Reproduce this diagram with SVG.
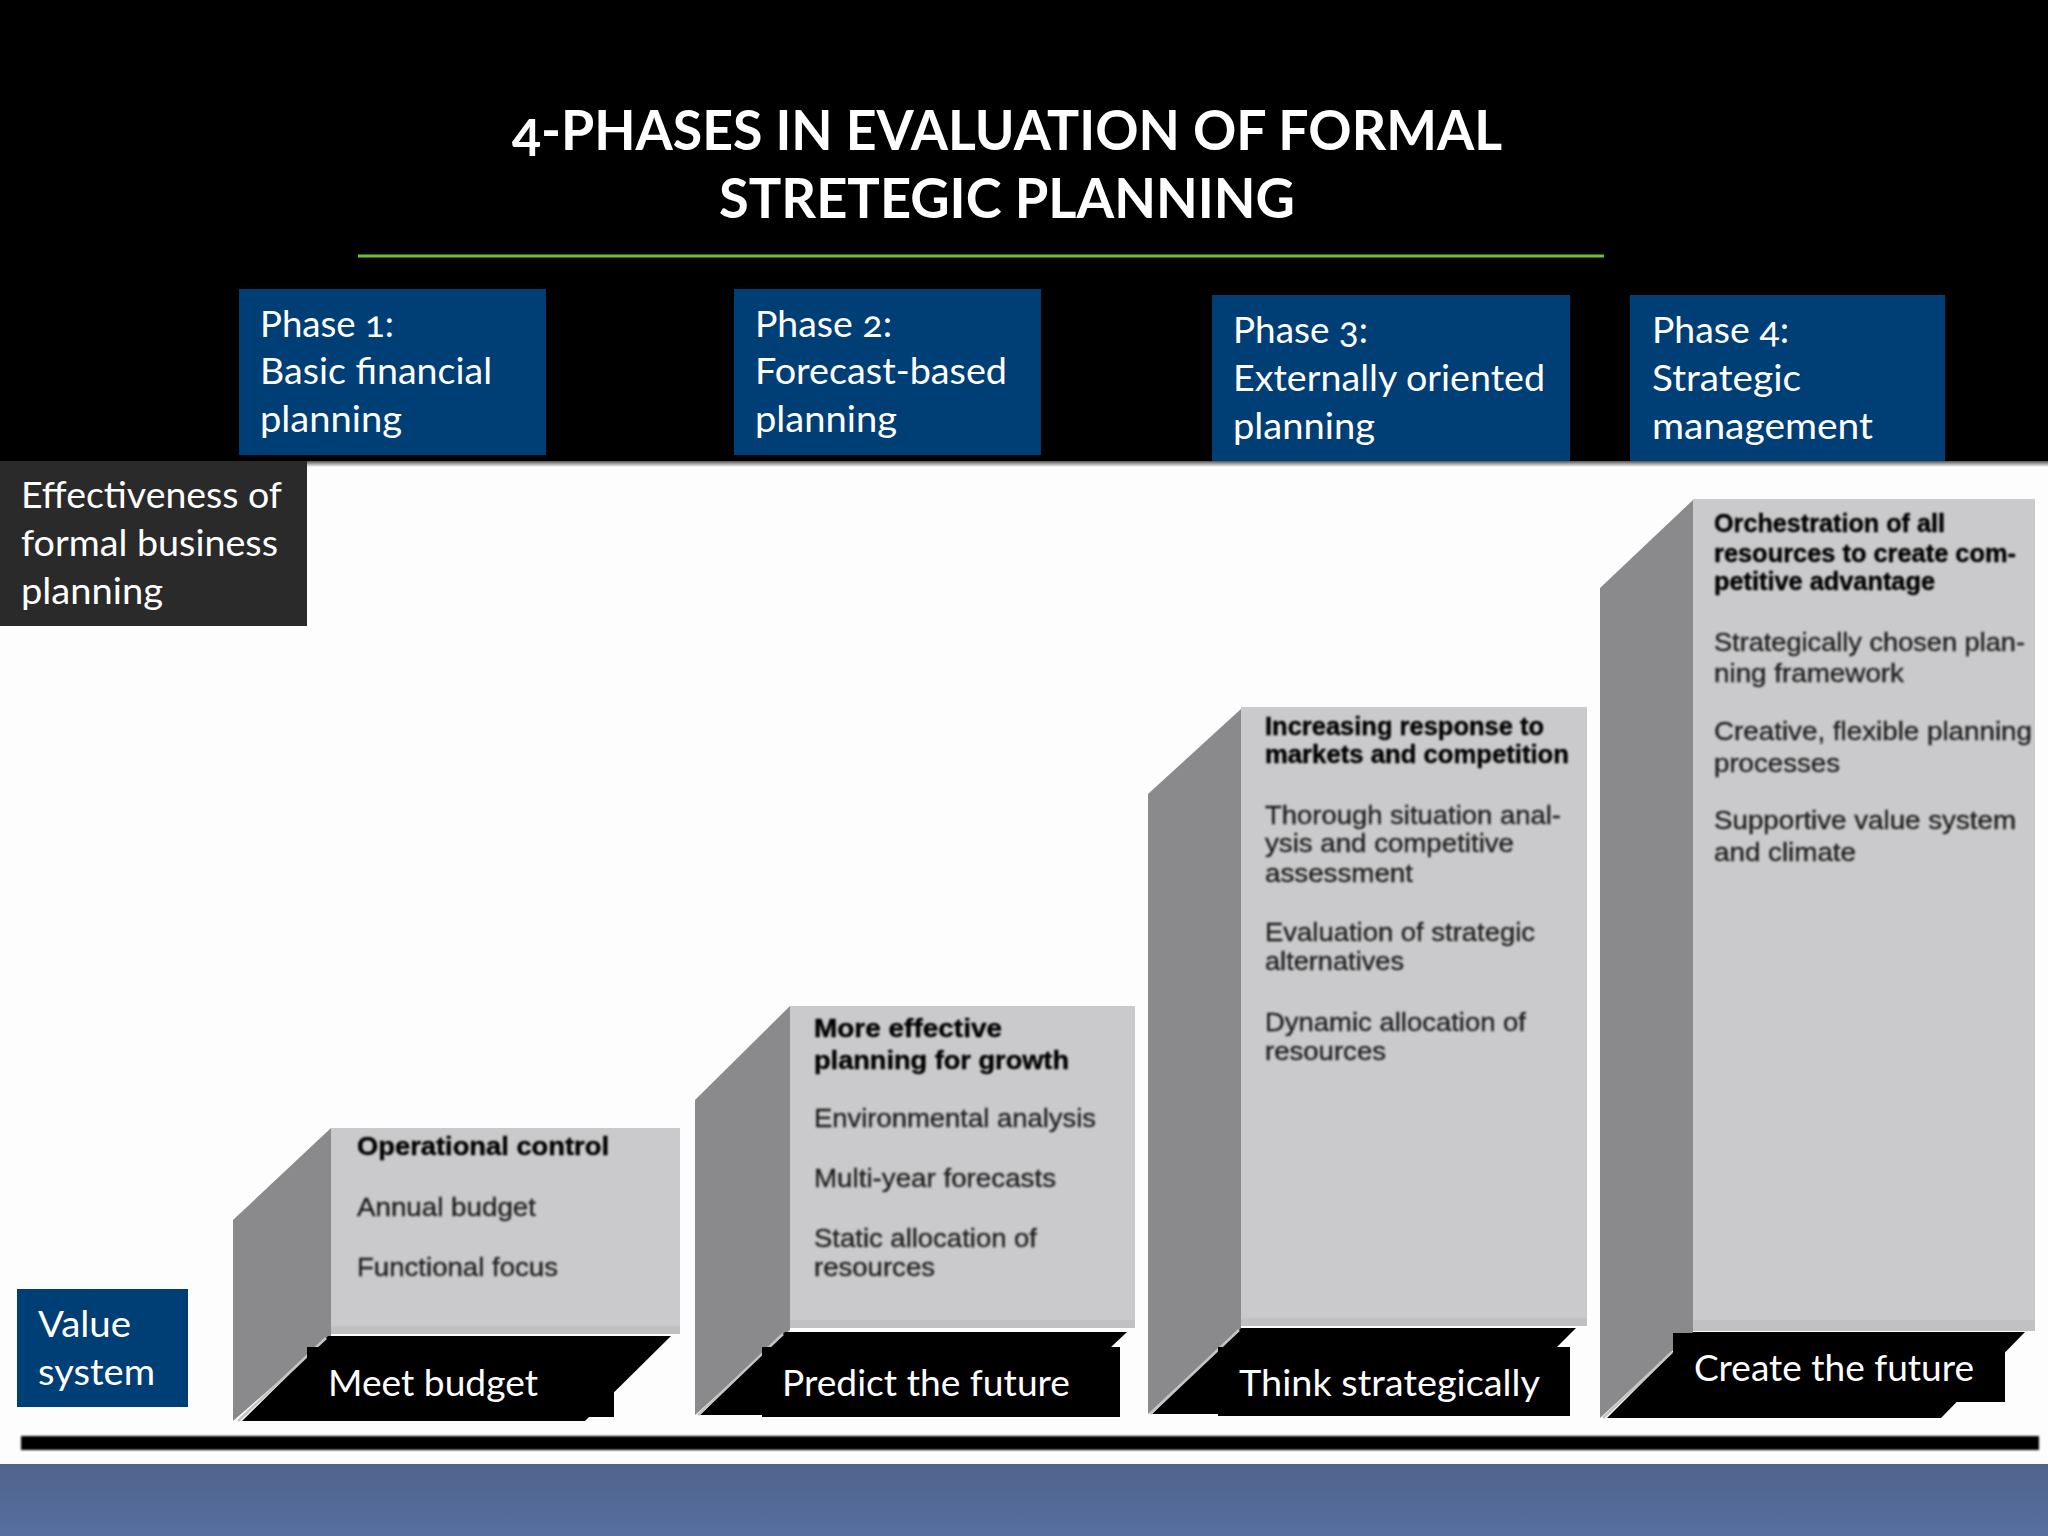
<svg xmlns="http://www.w3.org/2000/svg" width="2048" height="1536" viewBox="0 0 2048 1536">
<style>
.w{font-family:"Lato","Liberation Sans",sans-serif;font-size:37px;fill:#fff;font-feature-settings:"onum";}
.t{font-family:"Lato","Liberation Sans",sans-serif;font-size:55px;font-weight:700;fill:#fff;font-feature-settings:"onum";}
.g{font-family:"Liberation Sans",Arial,sans-serif;font-size:26px;fill:#1c1c1c;stroke:#1c1c1c;stroke-width:0.3;filter:url(#soft);}
.b{font-family:"Liberation Sans",Arial,sans-serif;font-size:26px;font-weight:700;fill:#000;stroke:#000;stroke-width:0.4;filter:url(#soft);}
.navy{fill:#003e76;}
.front{fill:#cacacc;}
.side{fill:#8a8a8c;}
.floor{fill:#000;}
.edge{fill:none;stroke:#c4c4c4;stroke-width:2.5;}
.band{fill:#c1c1c3;}
</style>
<defs>
<filter id="soft" x="-5%" y="-20%" width="110%" height="140%"><feGaussianBlur stdDeviation="1"/></filter>
<filter id="bar" x="-1%" y="-50%" width="102%" height="200%"><feGaussianBlur stdDeviation="1"/></filter>
<linearGradient id="foot" x1="0" y1="0" x2="0" y2="1"><stop offset="0" stop-color="#4f648d"/><stop offset="1" stop-color="#576f9f"/></linearGradient>
<linearGradient id="top" x1="0" y1="0" x2="0" y2="1"><stop offset="0" stop-color="#555"/><stop offset="1" stop-color="#fdfdfd"/></linearGradient>
</defs>
<rect width="2048" height="1536" fill="#fdfdfd"/>
<rect width="2048" height="461" fill="#000"/>
<rect y="461" width="2048" height="6" fill="url(#top)"/>
<rect y="1464" width="2048" height="72" fill="url(#foot)"/>

<g id="title">
<text class="t" x="512" y="150" textLength="990" lengthAdjust="spacingAndGlyphs">4-PHASES IN EVALUATION OF FORMAL</text>
<text class="t" x="719" y="218" textLength="576" lengthAdjust="spacingAndGlyphs">STRETEGIC PLANNING</text>
<rect x="358" y="254.5" width="1246" height="3" fill="#6fbf3f"/>
</g>

<g id="baseline"><rect x="21" y="1436" width="2018" height="14" fill="#000" filter="url(#bar)"/></g>

<g id="block1">
<polygon class="side" points="233,1220 331,1128 331,1336 233,1421"/>
<rect class="front" x="331" y="1128" width="349" height="206"/>
<rect class="band" x="331" y="1326" width="349" height="8"/>
<polygon class="floor" points="328,1336 671,1336 585,1421 242,1421"/>
<path class="edge" d="M326,1338 L238,1421"/>
<text class="b" x="357" y="1155" textLength="252" lengthAdjust="spacingAndGlyphs">Operational control</text>
<text class="g" x="357" y="1215.5" textLength="179" lengthAdjust="spacingAndGlyphs">Annual budget</text>
<text class="g" x="357" y="1275.5" textLength="201" lengthAdjust="spacingAndGlyphs">Functional focus</text>
<rect class="floor" x="307" y="1347" width="307" height="70"/>
<text class="w" x="328" y="1396" textLength="210" lengthAdjust="spacingAndGlyphs">Meet budget</text>
</g>

<g id="block2">
<polygon class="side" points="695,1100 790,1006 790,1330 695,1415"/>
<rect class="front" x="790" y="1006" width="345" height="322"/>
<rect class="band" x="790" y="1320" width="345" height="8"/>
<polygon class="floor" points="785,1332 1127,1332 1039,1415 700,1415"/>
<path class="edge" d="M783,1334 L698,1415"/>
<text class="b" x="814" y="1037" textLength="188" lengthAdjust="spacingAndGlyphs">More effective</text>
<text class="b" x="814" y="1069" textLength="255" lengthAdjust="spacingAndGlyphs">planning for growth</text>
<text class="g" x="814" y="1127" textLength="282" lengthAdjust="spacingAndGlyphs">Environmental analysis</text>
<text class="g" x="814" y="1187" textLength="242" lengthAdjust="spacingAndGlyphs">Multi-year forecasts</text>
<text class="g" x="814" y="1247" textLength="223" lengthAdjust="spacingAndGlyphs">Static allocation of</text>
<text class="g" x="814" y="1276" textLength="121" lengthAdjust="spacingAndGlyphs">resources</text>
<rect class="floor" x="762" y="1347" width="358" height="70"/>
<text class="w" x="782" y="1396" textLength="288" lengthAdjust="spacingAndGlyphs">Predict the future</text>
</g>

<g id="block3">
<polygon class="side" points="1148,794 1241,709 1241,1328 1148,1414"/>
<rect class="front" x="1241" y="707" width="346" height="619"/>
<rect class="band" x="1241" y="1318" width="346" height="8"/>
<polygon class="floor" points="1241,1328 1576,1328 1490,1414 1152,1414"/>
<path class="edge" d="M1239,1330 L1150,1414"/>
<text class="b" x="1265" y="735" textLength="279" lengthAdjust="spacingAndGlyphs">Increasing response to</text>
<text class="b" x="1265" y="763" textLength="304" lengthAdjust="spacingAndGlyphs">markets and competition</text>
<text class="g" x="1265" y="824" textLength="296" lengthAdjust="spacingAndGlyphs">Thorough situation anal-</text>
<text class="g" x="1265" y="852" textLength="249" lengthAdjust="spacingAndGlyphs">ysis and competitive</text>
<text class="g" x="1265" y="882" textLength="148" lengthAdjust="spacingAndGlyphs">assessment</text>
<text class="g" x="1265" y="941" textLength="270" lengthAdjust="spacingAndGlyphs">Evaluation of strategic</text>
<text class="g" x="1265" y="970" textLength="139" lengthAdjust="spacingAndGlyphs">alternatives</text>
<text class="g" x="1265" y="1031" textLength="261" lengthAdjust="spacingAndGlyphs">Dynamic allocation of</text>
<text class="g" x="1265" y="1060" textLength="121" lengthAdjust="spacingAndGlyphs">resources</text>
<rect class="floor" x="1218" y="1347" width="352" height="69"/>
<text class="w" x="1239" y="1396" textLength="301" lengthAdjust="spacingAndGlyphs">Think strategically</text>
</g>

<g id="block4">
<polygon class="side" points="1600,588 1693,500 1693,1332 1600,1418"/>
<rect class="front" x="1693" y="499" width="342" height="832"/>
<rect class="band" x="1693" y="1320" width="342" height="11"/>
<polygon class="floor" points="1693,1332 2025,1332 1941,1418 1607,1418"/>
<path class="edge" d="M1672,1352 L1603,1418"/>
<text class="b" x="1714" y="532" textLength="231" lengthAdjust="spacingAndGlyphs">Orchestration of all</text>
<text class="b" x="1714" y="562" textLength="302" lengthAdjust="spacingAndGlyphs">resources to create com-</text>
<text class="b" x="1714" y="590" textLength="221" lengthAdjust="spacingAndGlyphs">petitive advantage</text>
<text class="g" x="1714" y="651" textLength="311" lengthAdjust="spacingAndGlyphs">Strategically chosen plan-</text>
<text class="g" x="1714" y="682" textLength="190" lengthAdjust="spacingAndGlyphs">ning framework</text>
<text class="g" x="1714" y="740" textLength="318" lengthAdjust="spacingAndGlyphs">Creative, flexible planning</text>
<text class="g" x="1714" y="772" textLength="126" lengthAdjust="spacingAndGlyphs">processes</text>
<text class="g" x="1714" y="829" textLength="302" lengthAdjust="spacingAndGlyphs">Supportive value system</text>
<text class="g" x="1714" y="861" textLength="142" lengthAdjust="spacingAndGlyphs">and climate</text>
<rect class="floor" x="1673" y="1333" width="332" height="69"/>
<text class="w" x="1694" y="1381" textLength="280" lengthAdjust="spacingAndGlyphs">Create the future</text>
</g>

<g id="phase1">
<rect class="navy" x="239" y="289" width="307" height="166"/>
<text class="w" x="260" y="336.5" textLength="134" lengthAdjust="spacingAndGlyphs">Phase 1:</text>
<text class="w" x="260" y="384" textLength="232" lengthAdjust="spacingAndGlyphs">Basic financial</text>
<text class="w" x="260" y="432" textLength="142" lengthAdjust="spacingAndGlyphs">planning</text>
</g>
<g id="phase2">
<rect class="navy" x="734" y="289" width="307" height="166"/>
<text class="w" x="755" y="336.5" textLength="137" lengthAdjust="spacingAndGlyphs">Phase 2:</text>
<text class="w" x="755" y="384" textLength="252" lengthAdjust="spacingAndGlyphs">Forecast-based</text>
<text class="w" x="755" y="432" textLength="142" lengthAdjust="spacingAndGlyphs">planning</text>
</g>
<g id="phase3">
<rect class="navy" x="1212" y="295" width="358" height="166"/>
<text class="w" x="1233" y="343" textLength="135" lengthAdjust="spacingAndGlyphs">Phase 3:</text>
<text class="w" x="1233" y="391" textLength="312" lengthAdjust="spacingAndGlyphs">Externally oriented</text>
<text class="w" x="1233" y="438.5" textLength="142" lengthAdjust="spacingAndGlyphs">planning</text>
</g>
<g id="phase4">
<rect class="navy" x="1630" y="295" width="315" height="166"/>
<text class="w" x="1652" y="343" textLength="137" lengthAdjust="spacingAndGlyphs">Phase 4:</text>
<text class="w" x="1652" y="391" textLength="149" lengthAdjust="spacingAndGlyphs">Strategic</text>
<text class="w" x="1652" y="438.5" textLength="221" lengthAdjust="spacingAndGlyphs">management</text>
</g>
<g id="y-axis">
<rect x="0" y="461" width="307" height="165" fill="#2a2a2a"/>
<text class="w" x="21" y="508" textLength="261" lengthAdjust="spacingAndGlyphs">Effectiveness of</text>
<text class="w" x="21" y="556" textLength="257" lengthAdjust="spacingAndGlyphs">formal business</text>
<text class="w" x="21" y="603.5" textLength="142" lengthAdjust="spacingAndGlyphs">planning</text>
</g>
<g id="x-axis">
<rect class="navy" x="17" y="1289" width="171" height="118"/>
<text class="w" x="38" y="1337" textLength="93" lengthAdjust="spacingAndGlyphs">Value</text>
<text class="w" x="38" y="1385" textLength="117" lengthAdjust="spacingAndGlyphs">system</text>
</g>
</svg>
